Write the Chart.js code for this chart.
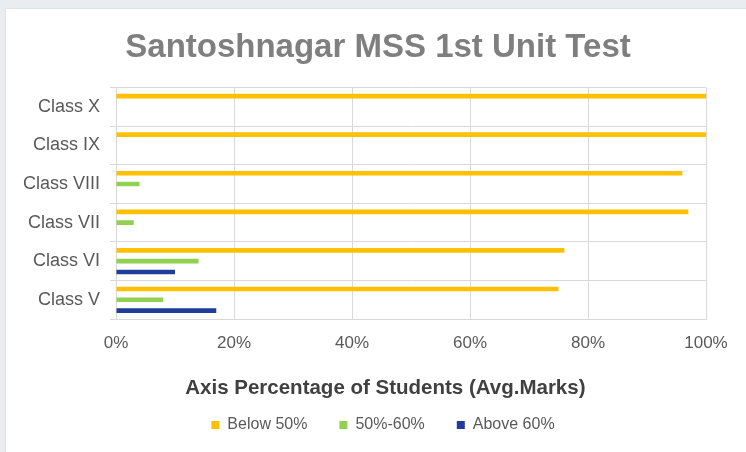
<!DOCTYPE html>
<html>
<head>
<meta charset="utf-8">
<script src="https://cdn.jsdelivr.net/npm/chart.js@4/dist/chart.umd.min.js"></script>
<style>
  html, body { margin: 0; padding: 0; background: #e9edf0; }
  #card { position: absolute; left: 5px; top: 8px; width: 745px; height: 448px; background: #ffffff; border: 1px solid #dde2e6; }
  #wrap { position: absolute; left: 0; top: 0; width: 746px; height: 452px; }
</style>
</head>
<body>
<div id="card"></div>
<div id="wrap"><canvas id="marksChart" width="746" height="452"></canvas></div>
<script>
const classes = ["Class X", "Class IX", "Class VIII", "Class VII", "Class VI", "Class V"];
const below50 = [100, 100, 96, 97, 76, 75];
const between50and60 = [0, 0, 4, 3, 14, 8];
const above60 = [0, 0, 0, 0, 10, 17];
const xTicks = [0, 20, 40, 60, 80, 100];

const gridColor = "#d9d9d9";
const font = "'Liberation Sans', Arial, sans-serif";

// title and legend are centred on the card, not on the plot, so nudge them right
const shiftBlocks = {
    id: "shiftBlocks",
    afterLayout(chart) {
        if (chart.titleBlock) {
            chart.titleBlock.left += 15;
            chart.titleBlock.right += 15;
        }
        if (chart.legend) {
            chart.legend.left += 20;
            chart.legend.right += 20;
        }
    }
};

const ctx = document.getElementById("marksChart").getContext("2d");

new Chart(ctx, {
    type: "bar",
    data: {
        labels: classes,
        datasets: [
            { label: "Below 50%", data: below50, backgroundColor: "#ffc000" },
            { label: "50%-60%", data: between50and60, backgroundColor: "#92d050" },
            { label: "Above 60%", data: above60, backgroundColor: "#1f3d99" }
        ]
    },
    options: {
        indexAxis: "y",
        responsive: false,
        animation: false,
        categoryPercentage: 0.84,
        barPercentage: 0.43,
        layout: { padding: { left: 20, right: 40, top: 0, bottom: 9 } },
        scales: {
            x: {
                min: 0,
                max: 100,
                afterBuildTicks: (axis) => { axis.ticks = xTicks.map(v => ({ value: v })); },
                ticks: {
                    padding: 14,
                    color: "#595959",
                    font: { family: font, size: 17 },
                    callback: (v) => v + "%"
                },
                grid: { color: gridColor, drawTicks: false },
                border: { color: gridColor },
                title: {
                    display: true,
                    // trailing no-break spaces pull the centred title left
                    text: "Axis Percentage of Students (Avg.Marks)" + "\u00a0".repeat(9),
                    color: "#404040",
                    font: { family: font, size: 20.5, weight: "bold", lineHeight: 1.1 },
                    padding: { top: 10, bottom: -15 }
                }
            },
            y: {
                afterFit: (axis) => { axis.width = 96; },
                ticks: {
                    padding: 10,
                    color: "#595959",
                    font: { family: font, size: 18 }
                },
                grid: { color: gridColor, offset: true, tickLength: 6 },
                border: { color: gridColor }
            }
        },
        plugins: {
            title: {
                display: true,
                text: "Santoshnagar MSS 1st Unit Test",
                color: "#7f7f7f",
                font: { family: font, size: 33, weight: "bold" },
                padding: { top: 28, bottom: 20 }
            },
            legend: {
                position: "bottom",
                labels: {
                    boxWidth: 8,
                    boxHeight: 8,
                    padding: 32,
                    color: "#595959",
                    font: { family: font, size: 16 }
                }
            },
            tooltip: { enabled: false }
        }
    },
    plugins: [shiftBlocks]
});
</script>
</body>
</html>
